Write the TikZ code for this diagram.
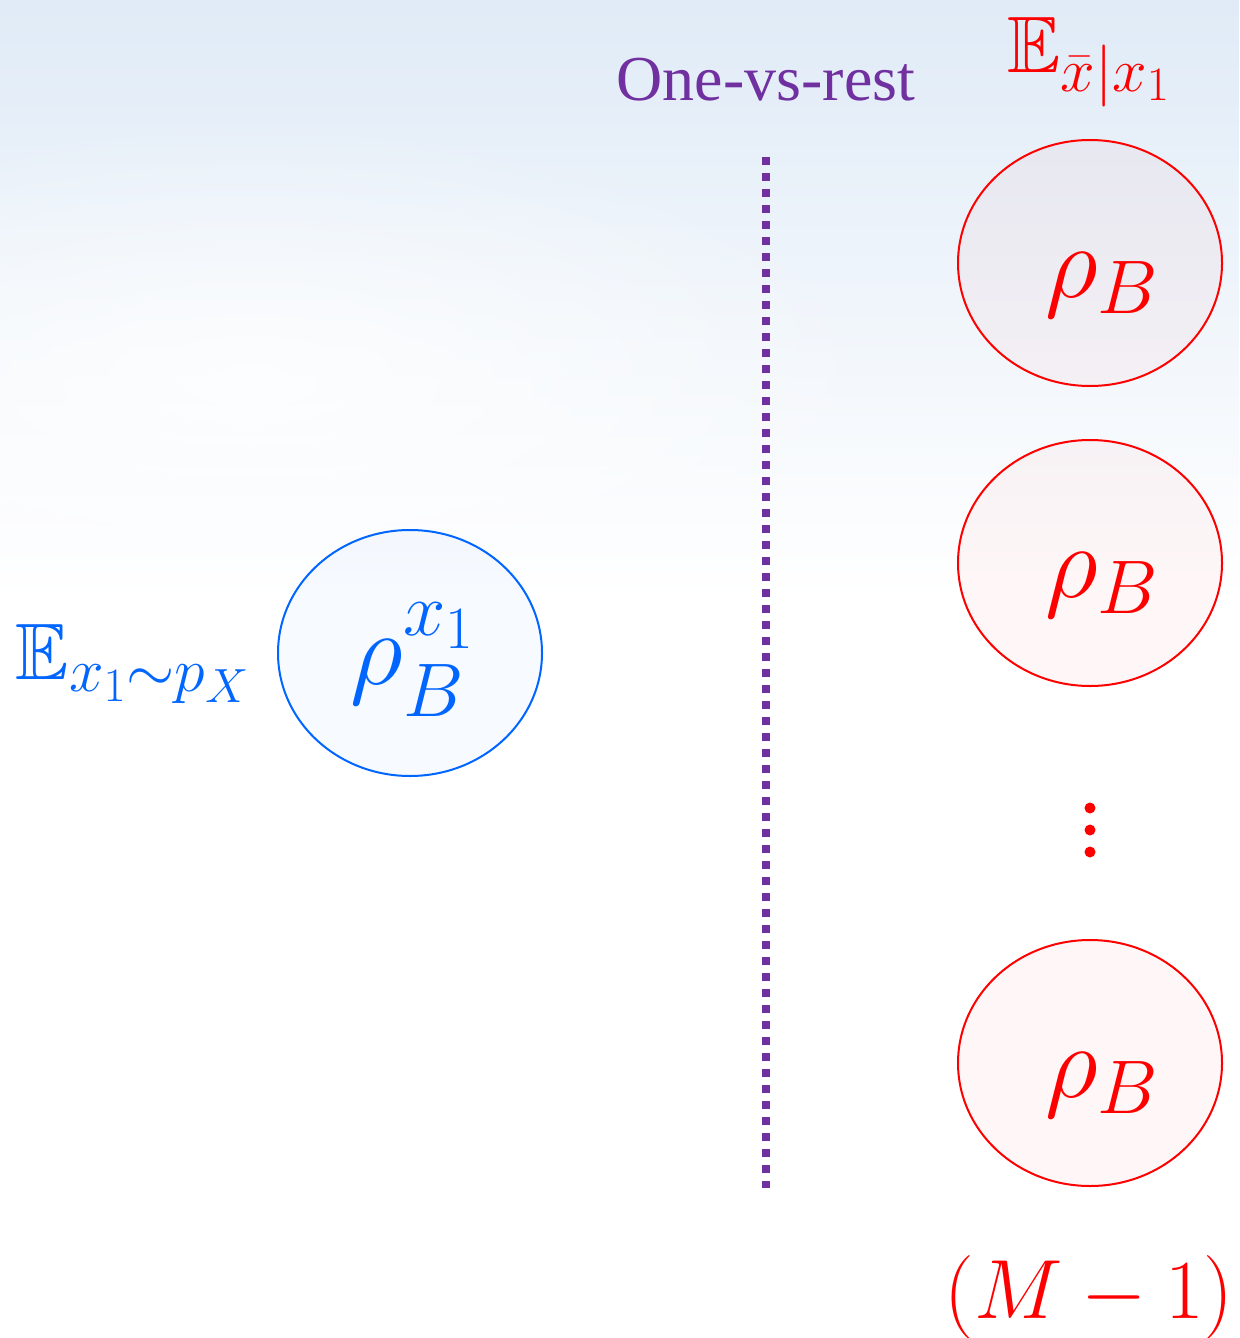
\RequirePackage{fix-cm}
\documentclass[tikz,border=0pt]{standalone}
\usepackage[no-math]{fontspec}
\setmainfont{Liberation Serif}
\usepackage{amssymb}
\DeclareFontFamily{U}{msb}{}
\DeclareFontShape{U}{msb}{m}{n}{<-6> msbm5 <6-8> msbm7 <8-> msbm10}{}
\usetikzlibrary{shapes.geometric,fadings}
\definecolor{bgtop}{RGB}{224,235,247}
\definecolor{vsviolet}{RGB}{112,48,160}
\definecolor{redc}{RGB}{255,0,0}
\definecolor{bluec}{RGB}{0,102,255}
\DeclareMathSizes{40}{40}{31}{24}
\DeclareMathSizes{52}{52}{38}{30}
\DeclareMathSizes{42}{42}{30}{22}
\tikzfading[name=fuzzyglow, inner color=transparent!0, outer color=transparent!100]
\begin{document}
\begin{tikzpicture}[x=0.5pt,y=-0.5pt,
  ovalred/.style={ellipse, draw=redc, line width=1pt, fill=redc, fill opacity=0.03,
    minimum width=132pt, minimum height=123pt, inner sep=0pt},
  ovalblue/.style={ellipse, draw=bluec, line width=1pt, fill=bluec, fill opacity=0.03,
    minimum width=132pt, minimum height=123pt, inner sep=0pt},
  redtxt/.style={text=redc, inner sep=0pt, font=\fontsize{52}{60}\selectfont},
  bluetxt/.style={text=bluec, inner sep=0pt, font=\fontsize{52}{60}\selectfont},
  reddot/.style={circle, fill=redc, minimum size=5.5pt, inner sep=0pt},
  sepline/.style={draw=vsviolet, line width=3.8pt, dash pattern=on 4pt off 4pt}
]
\path[use as bounding box] (0,0) rectangle (1239,1338);
\fill[white] (0,0) rectangle (1239,1338);
\shade[top color=bgtop, bottom color=white] (0,0) rectangle (1239,600);
\fill[white, path fading=fuzzyglow, fill opacity=0.8] (250,380) ellipse [x radius=650, y radius=260];

% title
\node[text=vsviolet, inner sep=0pt, font=\fontsize{32}{38}\selectfont] (title) at (766,80) {One-vs-rest};
\node[text=redc, inner sep=0pt, font=\fontsize{40}{46}\selectfont] (elab) at (1089,62) {$\mathbb{E}_{\bar{x}|x_1}$};

% separator
\coordinate (dtop) at (766,157);
\coordinate (dbot) at (766,1188);
\path[sepline] (dtop) -- (dbot);

% red column
\node[ovalred] (r1) at (1090,263) {};
\node[ovalred] (r2) at (1090,563) {};
\node[ovalred] (r3) at (1090,1063) {};
\node[redtxt] (t1) at (1102,285) {$\rho_B$};
\node[redtxt] (t2) at (1102,585) {$\rho_B$};
\node[redtxt] (t3) at (1102,1085) {$\rho_B$};
\node[reddot] (d1) at (1090,808) {};
\node[reddot] (d2) at (1090,830) {};
\node[reddot] (d3) at (1090,852) {};
\node[text=redc, inner sep=0pt, font=\fontsize{42}{50}\selectfont] (mlab) at (1089,1297) {$(M-1)$};

% blue
\node[ovalblue] (b1) at (410,653) {};
\node[bluetxt] (bt) at (413,660) {$\rho_B^{x_1}$};
\node[text=bluec, inner sep=0pt, font=\fontsize{40}{48}\selectfont] (blab) at (133,664) {$\mathbb{E}_{x_1\sim p_X}$};
\end{tikzpicture}
\end{document}
